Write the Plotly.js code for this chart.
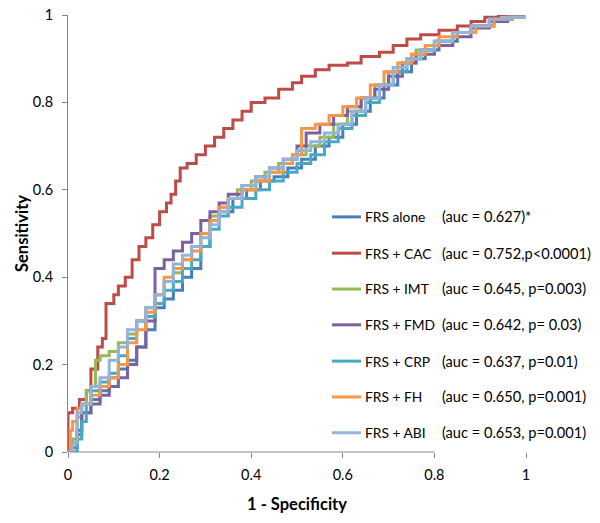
<!DOCTYPE html>
<html>
<head>
<meta charset="utf-8">
<script src="https://cdn.plot.ly/plotly-3.0.1.min.js"></script>
<style>html,body{margin:0;padding:0;background:#fff;}#chart{width:600px;height:523px;}</style>
</head>
<body>
<div id="chart"></div>
<script>
// Series names, legend AUC texts
const seriesNames = ["FRS alone", "FRS + CAC", "FRS + IMT", "FRS + FMD", "FRS + CRP", "FRS + FH", "FRS + ABI"];
const aucLabels = ["(auc = 0.627)*", "(auc = 0.752,p<0.0001)", "(auc = 0.645, p=0.003)", "(auc = 0.642, p= 0.03)", "(auc = 0.637, p=0.01)", "(auc = 0.650, p=0.001)", "(auc = 0.653, p=0.001)"];
const colors = ["#4A7EBB", "#BE4B48", "#98B954", "#7D60A0", "#46AAC5", "#F79646", "#93B3DB"];

// ROC curves (1 - specificity, sensitivity)
const aloneX = [0, 0.01, 0.02, 0.03, 0.05, 0.07, 0.09, 0.11, 0.13, 0.15, 0.17, 0.19, 0.21, 0.23, 0.25, 0.27, 0.29, 0.31, 0.33, 0.36, 0.39, 0.42, 0.45, 0.48, 0.51, 0.54, 0.57, 0.60, 0.63, 0.66, 0.69, 0.72, 0.75, 0.78, 0.81, 0.85, 0.89, 0.93, 0.97, 1.0];
const aloneY = [0, 0.01, 0.04, 0.09, 0.12, 0.14, 0.17, 0.19, 0.21, 0.24, 0.28, 0.33, 0.35, 0.37, 0.40, 0.42, 0.47, 0.53, 0.55, 0.58, 0.60, 0.62, 0.63, 0.65, 0.67, 0.70, 0.72, 0.75, 0.78, 0.81, 0.84, 0.87, 0.90, 0.92, 0.94, 0.96, 0.975, 0.99, 0.995, 1.0];

const cacX = [0, 0, 0.01, 0.025, 0.04, 0.05, 0.065, 0.075, 0.083, 0.10, 0.11, 0.125, 0.14, 0.155, 0.17, 0.185, 0.20, 0.215, 0.225, 0.235, 0.245, 0.26, 0.28, 0.30, 0.32, 0.34, 0.36, 0.38, 0.40, 0.43, 0.46, 0.49, 0.51, 0.54, 0.57, 0.61, 0.64, 0.68, 0.71, 0.74, 0.77, 0.81, 0.85, 0.88, 0.91, 0.94, 1.0];
const cacY = [0, 0.09, 0.10, 0.12, 0.14, 0.19, 0.24, 0.26, 0.34, 0.36, 0.38, 0.40, 0.44, 0.47, 0.49, 0.52, 0.55, 0.57, 0.59, 0.62, 0.65, 0.66, 0.68, 0.70, 0.72, 0.74, 0.76, 0.78, 0.80, 0.81, 0.83, 0.845, 0.86, 0.875, 0.885, 0.89, 0.905, 0.915, 0.93, 0.945, 0.955, 0.965, 0.975, 0.985, 0.995, 1.0, 1.0];

const imtX = [0, 0.01, 0.02, 0.03, 0.04, 0.05, 0.06, 0.07, 0.09, 0.11, 0.13, 0.15, 0.17, 0.19, 0.21, 0.23, 0.25, 0.27, 0.29, 0.31, 0.33, 0.35, 0.37, 0.40, 0.43, 0.46, 0.49, 0.52, 0.55, 0.58, 0.61, 0.64, 0.67, 0.70, 0.73, 0.76, 0.80, 0.84, 0.88, 0.92, 0.96, 1.0];
const imtY = [0, 0.03, 0.08, 0.11, 0.14, 0.15, 0.21, 0.22, 0.23, 0.25, 0.27, 0.30, 0.33, 0.36, 0.39, 0.41, 0.44, 0.47, 0.50, 0.54, 0.56, 0.58, 0.60, 0.62, 0.64, 0.66, 0.68, 0.70, 0.72, 0.75, 0.78, 0.81, 0.84, 0.87, 0.89, 0.92, 0.94, 0.96, 0.975, 0.99, 0.995, 1.0];

const fmdX = [0, 0.01, 0.02, 0.03, 0.05, 0.07, 0.09, 0.11, 0.13, 0.15, 0.17, 0.19, 0.21, 0.23, 0.25, 0.27, 0.29, 0.31, 0.33, 0.35, 0.38, 0.41, 0.44, 0.47, 0.50, 0.52, 0.55, 0.58, 0.61, 0.64, 0.67, 0.70, 0.73, 0.76, 0.80, 0.84, 0.88, 0.92, 0.96, 1.0];
const fmdY = [0, 0.02, 0.05, 0.09, 0.11, 0.13, 0.15, 0.17, 0.20, 0.24, 0.30, 0.42, 0.44, 0.46, 0.48, 0.50, 0.53, 0.55, 0.57, 0.59, 0.61, 0.63, 0.65, 0.67, 0.70, 0.73, 0.75, 0.77, 0.79, 0.81, 0.83, 0.86, 0.89, 0.91, 0.93, 0.95, 0.97, 0.985, 0.995, 1.0];

const crpX = [0, 0.01, 0.02, 0.03, 0.04, 0.05, 0.07, 0.09, 0.11, 0.13, 0.15, 0.17, 0.19, 0.21, 0.23, 0.25, 0.27, 0.29, 0.31, 0.33, 0.35, 0.38, 0.41, 0.44, 0.47, 0.50, 0.53, 0.56, 0.59, 0.62, 0.65, 0.68, 0.71, 0.74, 0.77, 0.80, 0.84, 0.88, 0.92, 0.96, 1.0];
const crpY = [0, 0, 0.03, 0.07, 0.11, 0.14, 0.16, 0.18, 0.22, 0.26, 0.30, 0.31, 0.34, 0.37, 0.39, 0.42, 0.44, 0.47, 0.51, 0.54, 0.56, 0.58, 0.60, 0.62, 0.64, 0.66, 0.68, 0.71, 0.74, 0.77, 0.80, 0.84, 0.87, 0.90, 0.92, 0.94, 0.96, 0.975, 0.99, 0.995, 1.0];

const fhX = [0, 0.005, 0.01, 0.02, 0.03, 0.05, 0.07, 0.09, 0.11, 0.13, 0.15, 0.17, 0.19, 0.21, 0.23, 0.25, 0.27, 0.29, 0.31, 0.33, 0.35, 0.38, 0.41, 0.44, 0.47, 0.49, 0.51, 0.54, 0.57, 0.60, 0.63, 0.66, 0.69, 0.72, 0.75, 0.78, 0.81, 0.85, 0.89, 0.93, 0.97, 1.0];
const fhY = [0, 0.05, 0.07, 0.10, 0.11, 0.13, 0.15, 0.17, 0.20, 0.25, 0.28, 0.32, 0.36, 0.40, 0.42, 0.44, 0.46, 0.50, 0.53, 0.56, 0.58, 0.60, 0.62, 0.64, 0.66, 0.68, 0.74, 0.75, 0.77, 0.79, 0.81, 0.84, 0.87, 0.89, 0.91, 0.93, 0.95, 0.96, 0.975, 0.99, 0.995, 1.0];

const abiX = [0, 0.01, 0.02, 0.03, 0.05, 0.07, 0.09, 0.11, 0.13, 0.15, 0.17, 0.19, 0.21, 0.23, 0.25, 0.27, 0.29, 0.31, 0.33, 0.35, 0.38, 0.41, 0.44, 0.47, 0.50, 0.53, 0.56, 0.59, 0.62, 0.65, 0.68, 0.71, 0.74, 0.77, 0.80, 0.84, 0.88, 0.92, 0.96, 1.0];
const abiY = [0, 0.02, 0.09, 0.11, 0.15, 0.17, 0.21, 0.24, 0.28, 0.30, 0.33, 0.36, 0.39, 0.43, 0.45, 0.47, 0.49, 0.52, 0.55, 0.58, 0.61, 0.63, 0.65, 0.67, 0.69, 0.71, 0.73, 0.75, 0.78, 0.81, 0.84, 0.88, 0.90, 0.92, 0.94, 0.96, 0.975, 0.99, 0.995, 1.0];

const xTickVals = [0, 0.2, 0.4, 0.6, 0.8, 1];
const xTickText = ["0", "0.2", "0.4", "0.6", "0.8", "1"];
const yTickVals = [0, 0.2, 0.4, 0.6, 0.8, 1];
const yTickText = ["0", "0.2", "0.4", "0.6", "0.8", "1"];

const xs = [aloneX, cacX, imtX, fmdX, crpX, fhX, abiX];
const ys = [aloneY, cacY, imtY, fmdY, crpY, fhY, abiY];

const FONT = "Lato, 'Open Sans', sans-serif";

const traces = xs.map((x, i) => ({
  type: "scatter", mode: "lines", x: x, y: ys[i], name: seriesNames[i],
  line: {color: colors[i], width: 3, shape: "hv"}, showlegend: false, hoverinfo: "skip"
}));

// Legend drawn in paper coordinates (plot area = paper)
const legRowY = [0.538, 0.455, 0.373, 0.291, 0.208, 0.126, 0.044];
const shapes = [
  {type: "line", xref: "paper", yref: "paper", x0: 0, x1: 0.8, y0: 0, y1: 0, line: {color: "#868686", width: 1}}
];
const annotations = [];
seriesNames.forEach((n, i) => {
  shapes.push({type: "line", xref: "paper", yref: "paper", x0: 0.5764, x1: 0.6397, y0: legRowY[i], y1: legRowY[i], line: {color: colors[i], width: 3}});
  annotations.push({xref: "paper", yref: "paper", x: 0.644, y: legRowY[i], xanchor: "left", yanchor: "middle", text: n, showarrow: false, font: {family: FONT, size: 13.8, color: "#000"}});
  annotations.push({xref: "paper", yref: "paper", x: 0.812, y: legRowY[i], xanchor: "left", yanchor: "middle", text: aucLabels[i], showarrow: false, font: {family: FONT, size: 14.6, color: "#000"}});
});

const layout = {
  width: 600, height: 523,
  margin: {l: 68, r: 74, t: 15, b: 71, pad: 0},
  paper_bgcolor: "#fff", plot_bgcolor: "#fff",
  font: {family: FONT, size: 15, color: "#000"},
  xaxis: {
    range: [0, 1], tickvals: xTickVals, ticktext: xTickText,
    showgrid: false, zeroline: false, showline: false,
    ticks: "outside", ticklen: 5, tickcolor: "#868686", tickwidth: 1,
    ticklabelstandoff: 5,
    tickfont: {family: FONT, size: 14.5, color: "#000"},
    title: {text: "1 - Specificity", font: {family: FONT, size: 16.5, color: "#000", weight: "bold"}, standoff: 16}
  },
  yaxis: {
    range: [0, 1], tickvals: yTickVals, ticktext: yTickText,
    showgrid: false, zeroline: false, showline: true, linecolor: "#868686", linewidth: 1,
    ticks: "outside", ticklen: 5, tickcolor: "#868686", tickwidth: 1,
    ticklabelstandoff: 6,
    tickfont: {family: FONT, size: 14.5, color: "#000"},
    title: {text: "Sensitivity", font: {family: FONT, size: 16.5, color: "#000", weight: "bold"}, standoff: 0}
  },
  shapes: shapes,
  annotations: annotations
};

Plotly.newPlot("chart", traces, layout, {displayModeBar: false, staticPlot: true});
</script>
</body>
</html>
